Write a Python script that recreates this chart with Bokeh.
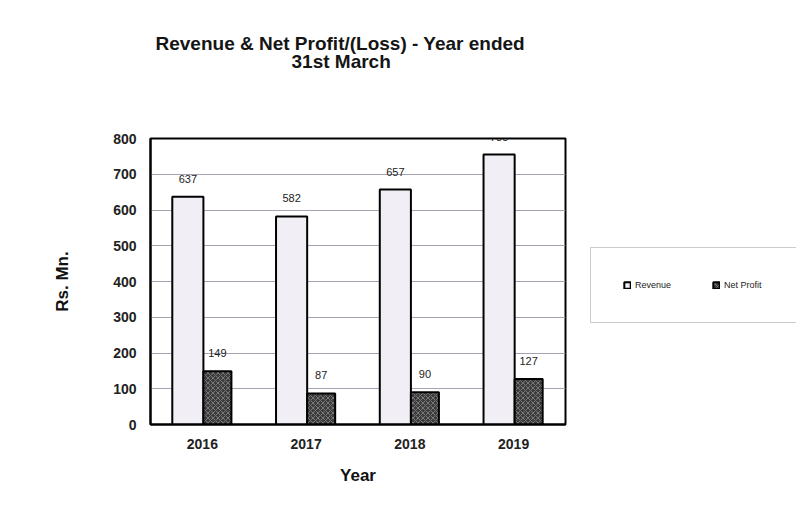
from bokeh.plotting import figure
from bokeh.models import Legend, LegendItem, ColumnDataSource, Title
from bokeh.layouts import row
from bokeh.transform import dodge
from bokeh.core.properties import value
from bokeh.embed import file_html
from bokeh.resources import INLINE

years = ["2016", "2017", "2018", "2019"]
revenue = [637, 582, 657, 755]
net_profit = [149, 87, 90, 127]
y_ticks = [0, 100, 200, 300, 400, 500, 600, 700, 800]
series_names = ["Revenue", "Net Profit"]

src = ColumnDataSource(dict(
    year=years, revenue=revenue, profit=net_profit,
    rev_txt=[str(v) for v in revenue], pro_txt=[str(v) for v in net_profit],
))

FONT = "Liberation Sans"
REV_STYLE = dict(fill_color="#f1eef5", line_color="black", line_width=2)
PRO_STYLE = dict(fill_color="#3c3c3c", hatch_pattern="x", hatch_color="#777777",
                 hatch_scale=5, hatch_weight=1, line_color="black", line_width=2)

p = figure(width=580, height=526, x_range=years, y_range=(0, 800),
           output_backend="svg", toolbar_location=None,
           min_border_left=150, min_border_right=15,
           min_border_top=138, min_border_bottom=102)

p.outline_line_color = "black"
p.outline_line_width = 2
p.background_fill_color = "white"
p.border_fill_color = "white"

p.vbar(x=dodge("year", -0.14, range=p.x_range), top="revenue", width=0.3,
       source=src, **REV_STYLE)
p.vbar(x=dodge("year", 0.145, range=p.x_range), top="profit", width=0.27,
       source=src, **PRO_STYLE)

p.text(x=dodge("year", -0.14, range=p.x_range), y="revenue", text="rev_txt", source=src,
       text_align="center", text_baseline="bottom", y_offset=-14,
       text_font_size="11px", text_color="#222222", text_font=value(FONT))
p.text(x=dodge("year", 0.145, range=p.x_range), y="profit", text="pro_txt", source=src,
       text_align="center", text_baseline="bottom", y_offset=-14,
       text_font_size="11px", text_color="#222222", text_font=value(FONT))

p.yaxis.ticker = y_ticks
p.ygrid.grid_line_color = "#a4a4b4"
p.ygrid.grid_line_width = 1
p.xgrid.grid_line_color = None

for ax in (p.xaxis, p.yaxis):
    ax.axis_line_color = "black"
    ax.axis_line_width = 2
    ax.major_tick_out = 0
    ax.major_tick_in = 0
    ax.minor_tick_out = 0
    ax.minor_tick_in = 0
    ax.major_label_text_font = FONT
    ax.major_label_text_font_style = "bold"
    ax.major_label_text_font_size = "14px"
    ax.major_label_text_color = "#222222"
    ax.axis_label_text_font = FONT
    ax.axis_label_text_font_style = "bold"
    ax.axis_label_text_color = "#111111"

p.yaxis.major_label_standoff = 14
p.xaxis.major_label_standoff = 14
p.xaxis.axis_label = "Year"
p.xaxis.axis_label_text_font_size = "17px"
p.xaxis.axis_label_standoff = 14
p.yaxis.axis_label = "Rs. Mn."
p.yaxis.axis_label_text_font_size = "17px"
p.yaxis.axis_label_standoff = 38

# spacer between frame and title lines
p.add_layout(Title(text=" ", align="left", standoff=64, text_font_size="1px"), "above")
p.add_layout(Title(text="31st  March", align="left", offset=141, standoff=0,
                   text_font=FONT, text_font_style="bold", text_font_size="19px",
                   text_color="#151515"), "above")
p.add_layout(Title(text="Revenue & Net Profit/(Loss) - Year ended", align="left",
                   offset=5, standoff=-10,
                   text_font=FONT, text_font_style="bold", text_font_size="19px",
                   text_color="#151515"), "above")

# legend panel (its renderers are hidden; only the legend shows)
q = figure(width=216, height=526, x_range=years, y_range=(0, 800),
           output_backend="svg", toolbar_location=None,
           x_axis_type=None, y_axis_type=None,
           min_border_left=0, min_border_right=0, min_border_top=0, min_border_bottom=0)
q.outline_line_color = None
q.grid.grid_line_color = None
q.background_fill_color = "white"
q.border_fill_color = "white"
r1 = q.vbar(x="year", top="revenue", width=0.1, source=src, visible=False, **REV_STYLE)
r2 = q.vbar(x="year", top="profit", width=0.1, source=src, visible=False, **PRO_STYLE)

legend = Legend(items=[LegendItem(label=series_names[0], renderers=[r1]),
                       LegendItem(label=series_names[1], renderers=[r2])],
                orientation="horizontal", location=(10, 101), margin=0,
                padding=32, spacing=37, glyph_width=8, glyph_height=8,
                label_standoff=4, label_width=40, label_height=10,
                label_text_font=FONT, label_text_font_size="9px",
                label_text_color="#222222", click_policy="none",
                inactive_fill_alpha=0,
                border_line_color="#999999", border_line_width=1,
                background_fill_color="white", background_fill_alpha=1)
q.add_layout(legend, "center")

layout = row(p, q, spacing=0)
open("out.html", "w").write(file_html(layout, INLINE))
